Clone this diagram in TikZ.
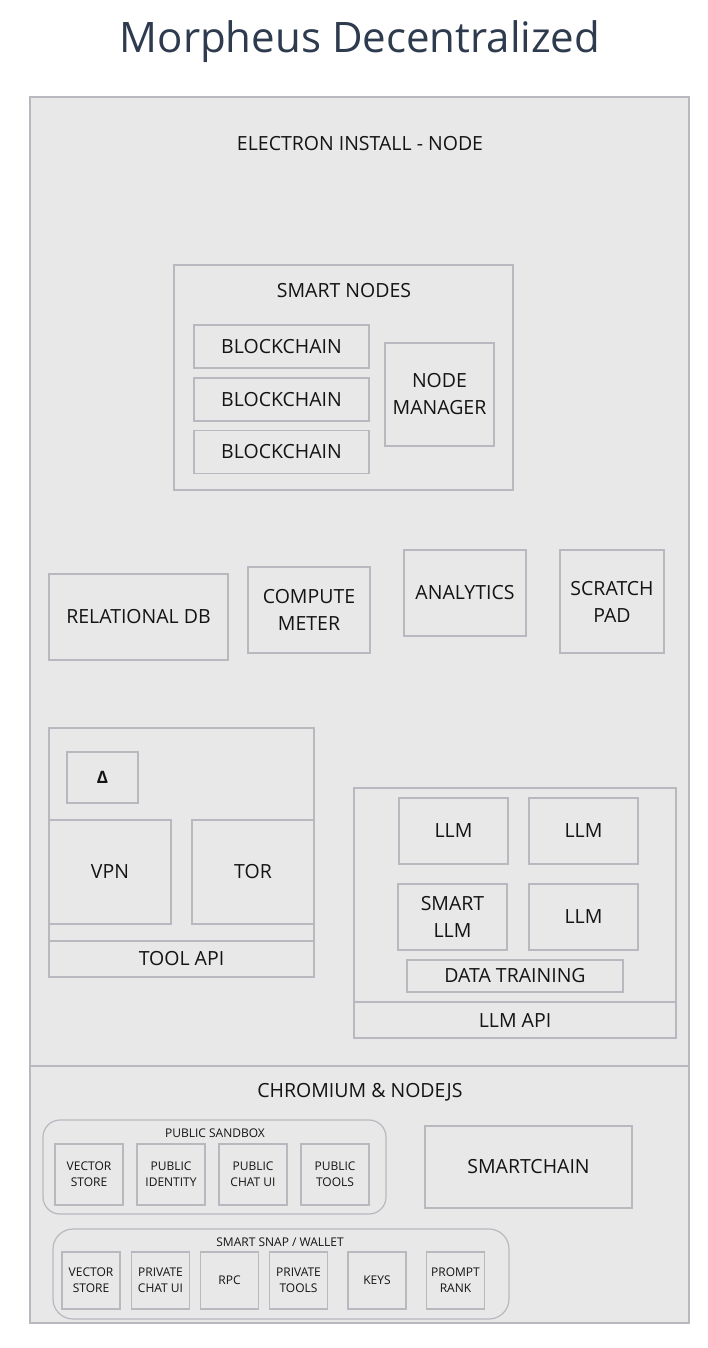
\documentclass[tikz,border=0pt]{standalone}
\usepackage{fontspec}
\setmainfont{Open Sans}
\definecolor{mfill}{rgb}{0.91, 0.91, 0.91}
\definecolor{mline}{rgb}{0.72, 0.72, 0.75}
\definecolor{mink}{rgb}{0.08, 0.08, 0.08}
\definecolor{mnavy}{rgb}{0.18, 0.23, 0.31}
\tikzset{box/.style = {draw=mline, fill=mfill, line width=1.2, inner sep=0,
                       align=center, text=mink, font=\fontsize{19.5}{27}\selectfont}}
\tikzset{tinybox/.style = {box, font=\fontsize{12}{16}\selectfont}}
\tikzset{pill/.style = {box, rounded corners=17}}
\tikzset{lbl/.style = {inner sep=0, text=mink, font=\fontsize{19.5}{27}\selectfont}}
\tikzset{tinylbl/.style = {lbl, font=\fontsize{12}{16}\selectfont}}

\begin{document}
\begin{tikzpicture}[x=1pt, y=-1pt]
    \useasboundingbox [fill=white] (0, 0) rectangle (708, 1348);
    \node [anchor=base, text=mnavy, font=\fontsize{42}{48}\selectfont] (title) at (360, 53) {Morpheus Decentralized};

    % electron part
    \node [box, minimum width=659, minimum height=969] (electron) at (359.5, 581.5) {};
    \node [lbl] (electronlbl) at (360, 144) {ELECTRON INSTALL - NODE};

    \node [box, minimum width=339, minimum height=225] (smart) at (343.5, 377.5) {};
    \node [lbl] (smartlbl) at (344, 291) {SMART NODES};
    \node [box, minimum width=175, minimum height=43] (chain1) at (281.5, 346.5) {BLOCKCHAIN};
    \node [box, minimum width=175, minimum height=43] (chain2) at (281.5, 399.5) {BLOCKCHAIN};
    \node [box, minimum width=175, minimum height=43] (chain3) at (281.5, 452) {BLOCKCHAIN};
    \node [box, minimum width=109, minimum height=103] (manager) at (439.5, 394.5) {NODE\\MANAGER};

    \node [box, minimum width=179, minimum height=86] (reldb) at (138.5, 617) {RELATIONAL DB};
    \node [box, minimum width=122, minimum height=86] (meter) at (309, 610) {COMPUTE\\METER};
    \node [box, minimum width=122, minimum height=86] (analytics) at (465, 593) {ANALYTICS};
    \node [box, minimum width=104, minimum height=103] (scratch) at (612, 601.5) {SCRATCH\\PAD};

    \node [box, minimum width=265, minimum height=249] (tools) at (181.5, 852.5) {};
    \node [box, minimum width=71, minimum height=51, font=\fontsize{17}{20}\selectfont\bfseries] (delta) at (102.5, 777.5) {Δ};
    \node [box, minimum width=122, minimum height=104] (vpn) at (110, 872) {VPN};
    \node [box, minimum width=122, minimum height=104] (tor) at (253, 872) {TOR};
    \node [box, minimum width=265, minimum height=36] (toolapi) at (181.5, 959) {TOOL API};

    \node [box, minimum width=322, minimum height=250] (llms) at (515, 913) {};
    \node [box, minimum width=109, minimum height=66] (llm1) at (453.5, 831) {LLM};
    \node [box, minimum width=109, minimum height=66] (llm2) at (583.5, 831) {LLM};
    \node [box, minimum width=109, minimum height=66] (smartllm) at (452.5, 917) {SMART\\LLM};
    \node [box, minimum width=109, minimum height=66] (llm4) at (583.5, 917) {LLM};
    \node [box, minimum width=216, minimum height=32] (training) at (515, 976) {DATA TRAINING};
    \node [box, minimum width=322, minimum height=36] (llmapi) at (515, 1020) {LLM API};

    % chromium part
    \node [box, minimum width=659, minimum height=257] (chromium) at (359.5, 1194.5) {};
    \node [lbl] (chromiumlbl) at (360, 1092) {CHROMIUM \& NODEJS};

    \node [pill, minimum width=343, minimum height=94] (sandbox) at (214.5, 1167) {};
    \node [tinylbl] (sandboxlbl) at (215, 1133) {PUBLIC SANDBOX};
    \node [tinybox, minimum width=68, minimum height=61] (pubvec) at (89, 1174.5) {VECTOR\\STORE};
    \node [tinybox, minimum width=68, minimum height=61] (pubid) at (171, 1174.5) {PUBLIC\\IDENTITY};
    \node [tinybox, minimum width=68, minimum height=61] (pubchat) at (253, 1174.5) {PUBLIC\\CHAT UI};
    \node [tinybox, minimum width=68, minimum height=61] (pubtools) at (335, 1174.5) {PUBLIC\\TOOLS};

    \node [box, minimum width=207, minimum height=82] (smartchain) at (528.5, 1167) {SMARTCHAIN};

    \node [pill, rounded corners=20, minimum width=456, minimum height=90] (snap) at (281, 1274) {};
    \node [tinylbl] (snaplbl) at (280, 1242) {SMART SNAP / WALLET};
    \node [tinybox, minimum width=58, minimum height=57] (privvec) at (91, 1280.5) {VECTOR\\STORE};
    \node [tinybox, minimum width=58, minimum height=57] (privchat) at (160.5, 1280.5) {PRIVATE\\CHAT UI};
    \node [tinybox, minimum width=58, minimum height=57] (rpc) at (229.5, 1280.5) {RPC};
    \node [tinybox, minimum width=58, minimum height=57] (privtools) at (298.5, 1280.5) {PRIVATE\\TOOLS};
    \node [tinybox, minimum width=58, minimum height=57] (keys) at (377, 1280.5) {KEYS};
    \node [tinybox, minimum width=58, minimum height=57] (rank) at (455.5, 1280.5) {PROMPT\\RANK};
  \end{tikzpicture}
\end{document}
